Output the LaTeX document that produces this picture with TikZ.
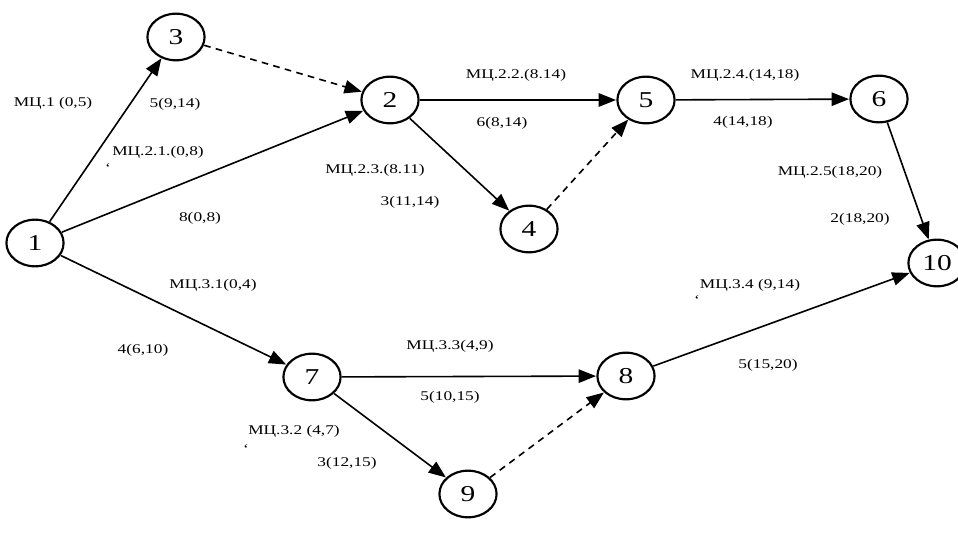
\documentclass[tikz,border=0pt]{standalone}
\usepackage{fontspec}
\setmainfont{Liberation Serif}
\usetikzlibrary{arrows.meta, shapes.geometric}

\begin{document}
\begin{tikzpicture}[x=0.75pt, y=-0.75pt, line width=1.2pt,
    >={Triangle[length=13pt, width=10pt]},
    state/.style={ellipse, draw, line width=1.6pt, minimum width=33pt, minimum height=35pt,
        inner sep=0pt, font=\fontsize{17}{17}\selectfont, xscale=1.3},
    lbl/.style={inner sep=0pt, font=\fontsize{10}{12}\selectfont, xscale=1.3},
    dummy/.style={->, dashed, dash pattern=on 5pt off 4pt}]
        \useasboundingbox (0,0) rectangle (958,545);

        % events
        \node[state] (n1)  at (35,243)  {1};
        \node[state] (n3)  at (176,37)  {3};
        \node[state] (n2)  at (390,100) {2};
        \node[state] (n5)  at (646,100) {5};
        \node[state] (n6)  at (879,99)  {6};
        \node[state] (n4)  at (529,229) {4};
        \node[state] (n10) at (937,263) {10};
        \node[state] (n7)  at (312,377) {7};
        \node[state] (n8)  at (626,376) {8};
        \node[state] (n9)  at (468,494) {9};

        % works
        \draw[->] (n1) -- (n3);
        \draw[dummy] (n3) -- (n2);
        \draw[->] (n1) -- (n2);
        \draw[->] (n2) -- (n5);
        \draw[->] (n2) -- (n4);
        \draw[dummy] (n4) -- (n5);
        \draw[->] (n5) -- (n6);
        \draw[->] (n6) -- (n10);
        \draw[->] (n1) -- (n7);
        \draw[->] (n7) -- (n8);
        \draw[->] (n7) -- (n9);
        \draw[dummy] (n9) -- (n8);
        \draw[->] (n8) -- (n10);

        % labels
        \node[lbl] (l13a) at (53,103)  {МЦ.1 (0,5)};
        \node[lbl] (l13b) at (175,104) {5(9,14)};
        \node[lbl] (l12a) at (158,152) {МЦ.2.1.(0,8)};
        \node[lbl] (t1)   at (108,168) {`};
        \node[lbl] (l12b) at (200,218) {8(0,8)};
        \node[lbl] (l24a) at (375,170) {МЦ.2.3.(8.11)};
        \node[lbl] (l24b) at (410,202) {3(11,14)};
        \node[lbl] (l25a) at (516,75)  {МЦ.2.2.(8.14)};
        \node[lbl] (l25b) at (502,123) {6(8,14)};
        \node[lbl] (l56a) at (745,75)  {МЦ.2.4.(14,18)};
        \node[lbl] (l56b) at (743,122) {4(14,18)};
        \node[lbl] (l610a) at (830,172) {МЦ.2.5(18,20)};
        \node[lbl] (l610b) at (860,219) {2(18,20)};
        \node[lbl] (l17a) at (213,285) {МЦ.3.1(0,4)};
        \node[lbl] (l17b) at (143,350) {4(6,10)};
        \node[lbl] (l79a) at (294,431) {МЦ.3.2 (4,7)};
        \node[lbl] (t2)   at (246,449) {`};
        \node[lbl] (l79b) at (347,463) {3(12,15)};
        \node[lbl] (l78a) at (450,346) {МЦ.3.3(4,9)};
        \node[lbl] (l78b) at (450,397) {5(10,15)};
        \node[lbl] (l810a) at (750,285) {МЦ.3.4 (9,14)};
        \node[lbl] (t3)   at (697,300) {`};
        \node[lbl] (l810b) at (768,365) {5(15,20)};
\end{tikzpicture}
\end{document}
